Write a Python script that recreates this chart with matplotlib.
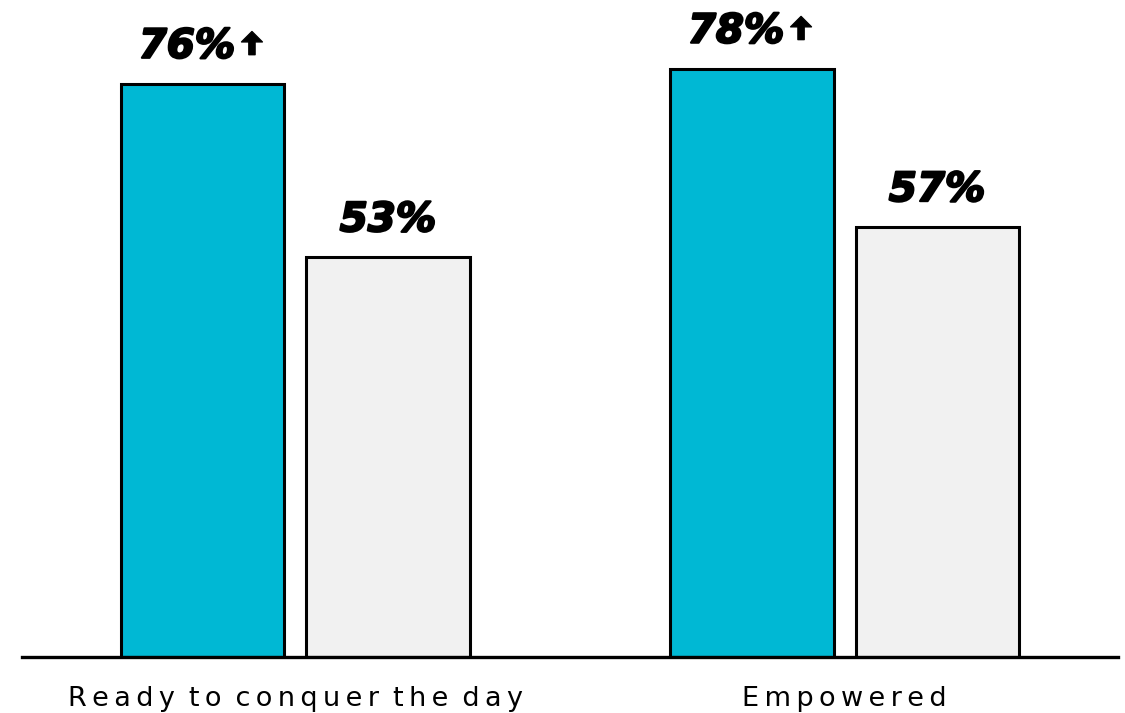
import matplotlib.pyplot as plt
import matplotlib.patheffects as pe
from matplotlib.transforms import offset_copy
import numpy as np

categories = ["Ready to conquer the day", "Empowered"]
highlight = [76, 78]
baseline = [53, 57]
highlight_labels = ["76%", "78%"]
baseline_labels = ["53%", "57%"]

teal = "#00b8d4"
light = "#f1f1f1"


def spaced(s):
    # widen the tracking with thin spaces between letters
    return "\u2009".join(s).replace("\u2009 \u2009", " \u2009")


fig = plt.figure(figsize=(11.25, 7.13), dpi=100)
ax = fig.add_axes([22 / 1125, 56 / 713, 1096 / 1125, 657 / 713])

x = np.arange(len(categories))
width = 0.297
offset = 0.1685

b1 = ax.bar(x - offset, highlight, width, color=teal, edgecolor="black", linewidth=2.2, zorder=2)
b2 = ax.bar(x + offset, baseline, width, color=light, edgecolor="black", linewidth=2.2, zorder=2)

heavy = [pe.withStroke(linewidth=1.6, foreground="black")]
value_font = dict(family="DejaVu Sans", fontsize=29, fontweight="bold",
                  fontstyle="italic", va="baseline", ha="center", path_effects=heavy)

# little up arrows next to the highlighted values
arrow_lo = offset_copy(ax.transData, fig=fig, x=35.3, y=20.9, units="points")
arrow_hi = offset_copy(ax.transData, fig=fig, x=35.3, y=37.6, units="points")

for rect, lab in zip(b1, highlight_labels):
    cx = rect.get_x() + rect.get_width() / 2
    h = rect.get_height()
    ax.annotate(lab, (cx, h), xytext=(-11.5, 18.7), textcoords="offset points", **value_font)
    ax.annotate("", xy=(cx, h), xycoords=arrow_hi, xytext=(cx, h), textcoords=arrow_lo,
                arrowprops=dict(arrowstyle="simple,head_length=0.5,head_width=1.0,tail_width=0.3",
                                mutation_scale=15, color="black", shrinkA=0, shrinkB=0))
for rect, lab in zip(b2, baseline_labels):
    cx = rect.get_x() + rect.get_width() / 2
    ax.annotate(lab, (cx, rect.get_height()), xytext=(0, 18.7),
                textcoords="offset points", **value_font)

ax.set_xlim(-0.498, 1.498)
ax.set_ylim(0, 87.1)
ax.set_xticks(x)
ax.set_xticklabels([spaced(c) for c in categories], fontsize=19.5, family="DejaVu Sans")
ax.tick_params(axis="x", length=0, pad=21)
ax.set_yticks([])
for side in ["top", "right", "left"]:
    ax.spines[side].set_visible(False)
ax.spines["bottom"].set_linewidth(2.4)
ax.spines["bottom"].set_zorder(3)

fig.savefig("out.png", dpi=100)
